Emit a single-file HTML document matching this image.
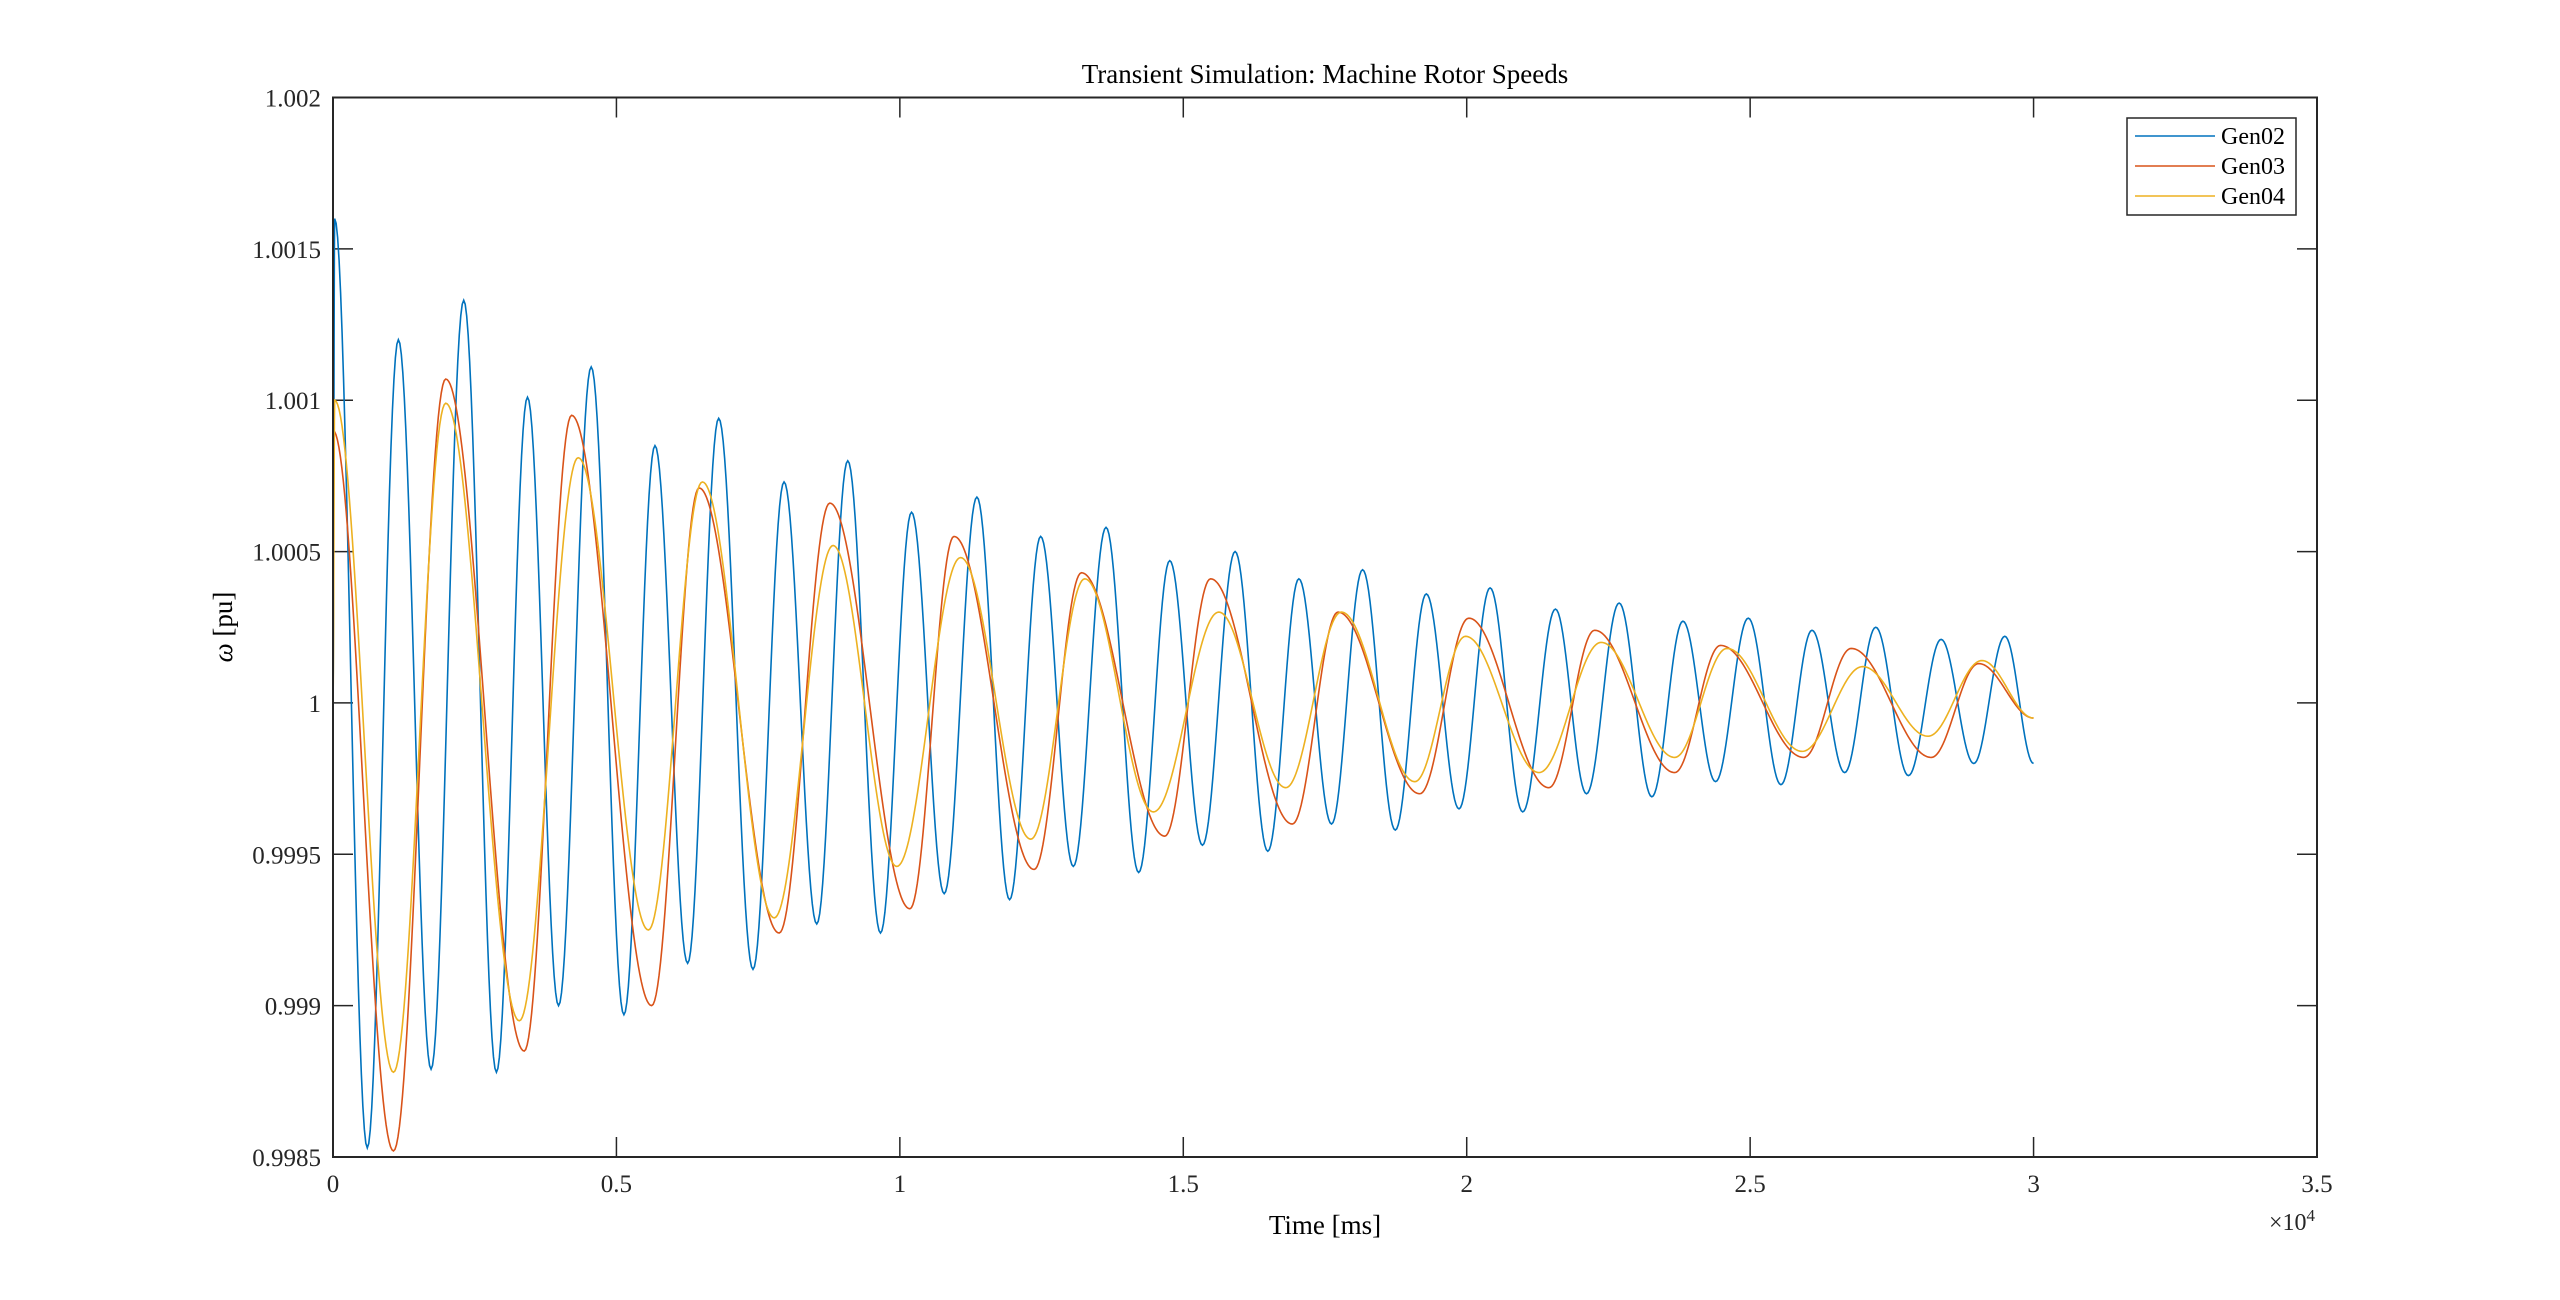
<!DOCTYPE html>
<html><head><meta charset="utf-8"><style>
html,body{margin:0;padding:0;background:#fff;}
svg{display:block;font-family:"Liberation Serif",serif;}
</style></head><body>
<svg id="chart" width="2560" height="1300" viewBox="0 0 2560 1300" xmlns="http://www.w3.org/2000/svg">
<rect width="2560" height="1300" fill="#fff"/>
<text x="1325" y="83" font-size="27" text-anchor="middle" fill="#000">Transient Simulation: Machine Rotor Speeds</text>
<g id="axes"></g>
<g id="series"></g>
<rect x="333" y="97.5" width="1984" height="1059.5" fill="none" stroke="#262626" stroke-width="2"/>
<text x="1325" y="1234" font-size="27" text-anchor="middle" fill="#000">Time [ms]</text>
<text x="2315" y="1230" font-size="24" text-anchor="end" fill="#262626">×10<tspan dy="-9" font-size="17">4</tspan></text>
<text transform="translate(232,627) rotate(-90)" font-size="27" text-anchor="middle" fill="#000"><tspan font-style="italic">ω</tspan> [pu]</text>
<g>
<rect x="2127" y="118" width="169" height="97" fill="#fff" stroke="#262626" stroke-width="1.5"/>
<line x1="2135" y1="136" x2="2215" y2="136" stroke="#0072BD" stroke-width="1.5"/>
<text x="2221" y="144" font-size="24">Gen02</text>
<line x1="2135" y1="166" x2="2215" y2="166" stroke="#D95319" stroke-width="1.5"/>
<text x="2221" y="174" font-size="24">Gen03</text>
<line x1="2135" y1="196" x2="2215" y2="196" stroke="#EDB120" stroke-width="1.5"/>
<text x="2221" y="204" font-size="24">Gen04</text>
</g>
</svg>
<script>
const xTicks = [0, 5000, 10000, 15000, 20000, 25000, 30000, 35000];
const xTickLabels = ["0", "0.5", "1", "1.5", "2", "2.5", "3", "3.5"];
const yTicks = [0.9985, 0.999, 0.9995, 1, 1.0005, 1.001, 1.0015, 1.002];
const yTickLabels = ["0.9985", "0.999", "0.9995", "1", "1.0005", "1.001", "1.0015", "1.002"];
const seriesNames = ["Gen02", "Gen03", "Gen04"];
// extrema (time ms, value pu)
const gen02T = [0,29,605,1153,1730,2306,2883,3431,3979,4555,5132,5680,6256,6804,7409,7957,8534,9081,9658,10206,10782,11359,11936,12484,13060,13637,14213,14761,15338,15914,16491,17039,17615,18163,18740,19287,19864,20412,20988,21565,22113,22689,23266,23814,24390,24967,25543,26091,26668,27216,27792,28369,28946,29493,30000];
const gen02V = [1.0,1.0016,0.99853,1.0012,0.99879,1.00133,0.99878,1.00101,0.9990,1.00111,0.99897,1.00085,0.99914,1.00094,0.99912,1.00073,0.99927,1.0008,0.99924,1.00063,0.99937,1.00068,0.99935,1.00055,0.99946,1.00058,0.99944,1.00047,0.99953,1.0005,0.99951,1.00041,0.9996,1.00044,0.99958,1.00036,0.99965,1.00038,0.99964,1.00031,0.9997,1.00033,0.99969,1.00027,0.99974,1.00028,0.99973,1.00024,0.99977,1.00025,0.99976,1.00021,0.9998,1.00022,0.9998];
const gen03T = [0,1067,1989,3373,4209,5622,6458,7871,8764,10177,10955,12368,13204,14674,15482,16923,17730,19172,20037,21450,22257,23669,24477,25947,26783,28196,29032,30000];
const gen03V = [1.0009,0.99852,1.00107,0.99885,1.00095,0.9990,1.00071,0.99924,1.00066,0.99932,1.00055,0.99945,1.00043,0.99956,1.00041,0.9996,1.0003,0.9997,1.00028,0.99972,1.00024,0.99977,1.00019,0.99982,1.00018,0.99982,1.00013,0.99995];
const gen04T = [0,29,1067,1989,3287,4325,5564,6516,7784,8822,9946,11071,12310,13262,14473,15626,16808,17788,19085,19979,21276,22372,23669,24592,25918,26985,28138,29089,30000];
const gen04V = [1.0,1.001,0.99878,1.00099,0.99895,1.00081,0.99925,1.00073,0.99929,1.00052,0.99946,1.00048,0.99955,1.00041,0.99964,1.0003,0.99972,1.0003,0.99974,1.00022,0.99977,1.0002,0.99982,1.00018,0.99984,1.00012,0.99989,1.00014,0.99995];

const L=333,R=2317,T=97.5,B=1157;
const xMin=0,xMax=35000,yMin=0.9985,yMax=1.002;
const X=v=>L+(v-xMin)/(xMax-xMin)*(R-L);
const Y=v=>B-(v-yMin)/(yMax-yMin)*(B-T);
const NS="http://www.w3.org/2000/svg";
const axes=document.getElementById('axes');
function mk(tag,attrs,parent){const e=document.createElementNS(NS,tag);for(const k in attrs)e.setAttribute(k,attrs[k]);parent.appendChild(e);return e;}
xTicks.forEach((t,i)=>{
  const x=X(t);
  const l1=mk('line',{x1:x,y1:B,x2:x,y2:B-20,stroke:'#262626','stroke-width':1.5},axes);
  
  
  const l2=mk('line',{x1:x,y1:T,x2:x,y2:T+20,stroke:'#262626','stroke-width':1.5},axes);
  
  
  const tx=mk('text',{x:x,y:B+35,'font-size':25,'text-anchor':'middle',fill:'#262626'},axes);
  tx.textContent=xTickLabels[i];
  
  
});
yTicks.forEach((t,i)=>{
  const y=Y(t);
  const l1=mk('line',{x1:L,y1:y,x2:L+20,y2:y,stroke:'#262626','stroke-width':1.5},axes);
  
  
  const l2=mk('line',{x1:R,y1:y,x2:R-20,y2:y,stroke:'#262626','stroke-width':1.5},axes);
  
  
  const tx=mk('text',{x:L-12,y:y+9,'font-size':25,'text-anchor':'end',fill:'#262626'},axes);
  tx.textContent=yTickLabels[i];
  
  
});
function pathFrom(ts,vs){
  let d='M'+X(ts[0]).toFixed(2)+','+Y(vs[0]).toFixed(2);
  for(let i=0;i<ts.length-1;i++){
    const n=Math.max(6,Math.ceil((X(ts[i+1])-X(ts[i]))/1.5));
    for(let k=1;k<=n;k++){
      const f=k/n,s=(1-Math.cos(Math.PI*f))/2;
      const t=ts[i]+(ts[i+1]-ts[i])*f, v=vs[i]+(vs[i+1]-vs[i])*s;
      d+='L'+X(t).toFixed(2)+','+Y(v).toFixed(2);
    }
  }
  return d;
}
const sg=document.getElementById('series');
const specs=[[gen04T,gen04V,'#EDB120','series-gen04'],[gen03T,gen03V,'#D95319','series-gen03'],[gen02T,gen02V,'#0072BD','series-gen02']];
[specs[2],specs[1],specs[0]].forEach(s=>{
  const p=mk('path',{d:pathFrom(s[0],s[1]),fill:'none',stroke:s[2],'stroke-width':1.6},sg);
  
  
});
</script>
</body></html>
